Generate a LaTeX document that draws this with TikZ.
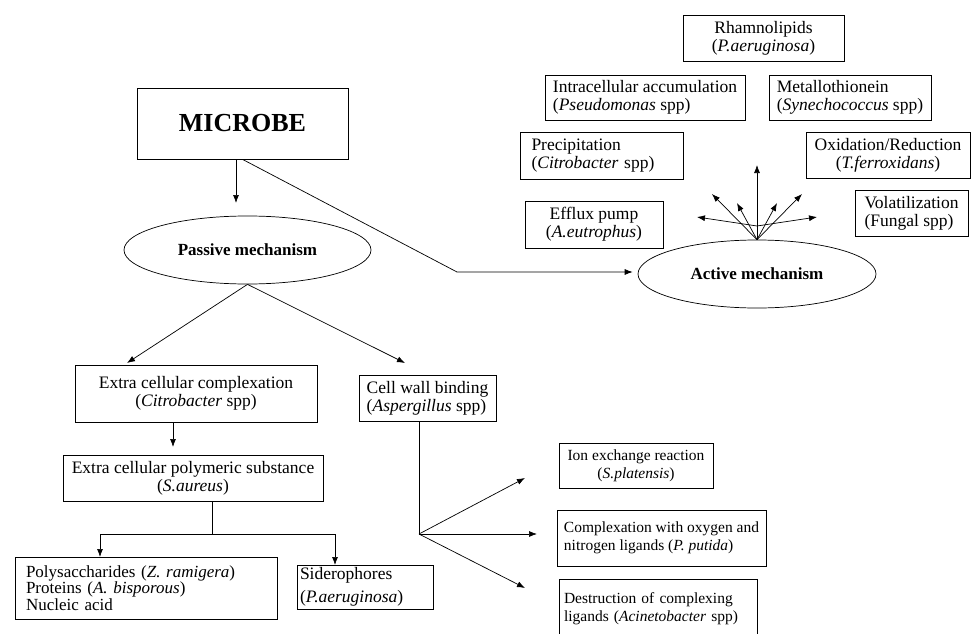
\documentclass[tikz,border=0pt]{standalone}
\usepackage{fontspec}
\setmainfont{Liberation Serif}
\usetikzlibrary{positioning}
\usetikzlibrary{arrows.meta}
\usetikzlibrary{shapes.geometric}
\tikzset{
  box/.style={draw, line width=0.25mm, inner sep=2pt, font=\fontsize{17.5}{18}\selectfont},
  smallbox/.style={box, font=\fontsize{15.5}{18}\selectfont},
  mech/.style={draw, ellipse, line width=0.25mm, inner sep=1pt, font=\fontsize{17}{20}\selectfont\bfseries},
  arr/.style={line width=0.25mm, arrows={-Latex[length=8pt,width=6pt]}},
  link/.style={line width=0.25mm}
}
\begin{document}
\begin{tikzpicture}[x=1pt,y=-1pt]
        \useasboundingbox (0,0) rectangle (972,634);
        \clip (0,0) rectangle (972,634);
        % Microbe and the two mechanisms
        \node[box, minimum width=211, minimum height=71, font=\fontsize{26}{30}\selectfont\bfseries] (microbe) at (242.5,123.5) {MICROBE};
        \node[mech, minimum width=247, minimum height=68] (passive) at (247.5,250) {Passive mechanism};
        \node[mech, minimum width=238, minimum height=68] (active) at (757,274) {Active mechanism};
        % Active mechanism boxes
        \node[box, minimum width=161, minimum height=46, align=center] (rham) at (763.5,38) {Rhamnolipids\\(\textit{P.aeruginosa})};
        \node[box, minimum width=200, minimum height=45, align=left] (intra) at (645,97.5) {Intracellular accumulation\\(\textit{Pseudomonas} spp)};
        \node[box, minimum width=162, minimum height=45, align=left] (metal) at (850,97.5) {Metallothionein\\(\textit{Synechococcus} spp)};
        \node[box, minimum width=163, minimum height=47, align=left, text width=140] (precip) at (601.5,155.5) {Precipitation\\(\textit{Citrobacter} spp)};
        \node[box, minimum width=164, minimum height=46, align=center] (oxid) at (888,155) {Oxidation/Reduction\\(\textit{T.ferroxidans})};
        \node[box, minimum width=113, minimum height=46, align=left] (volat) at (911.5,213) {Volatilization\\(Fungal spp)};
        \node[box, minimum width=138, minimum height=47, align=center] (efflux) at (594,224.5) {Efflux pump\\(\textit{A.eutrophus})};
        % Passive mechanism boxes
        \node[box, minimum width=242, minimum height=57, align=center] (ecc) at (196,393.5) {Extra cellular complexation\\(\textit{Citrobacter} spp)};
        \node[box, minimum width=260, minimum height=46, align=center] (eps) at (193,478) {Extra cellular polymeric substance\\(\textit{S.aureus})};
        \node[box, minimum width=262, minimum height=62, align=left, text width=240, font=\fontsize{17}{15}\selectfont] (poly) at (146,588) {Polysaccharides (\textit{Z. ramigera})\\Proteins (\textit{A. bisporous})\\Nucleic acid};
        \node[box, minimum width=136, minimum height=44, align=left, text width=130] (sidero) at (365,587) {Siderophores\\[5pt](\textit{P.aeruginosa})};
        \node[box, minimum width=137, minimum height=46, align=left] (cwb) at (427.5,398) {Cell wall binding\\(\textit{Aspergillus} spp)};
        \node[smallbox, minimum width=154, minimum height=45, align=center] (ion) at (636,465.5) {Ion exchange reaction\\(\textit{S.platensis})};
        \node[smallbox, minimum width=209, minimum height=56, align=left] (cplx) at (661.5,538) {Complexation with oxygen and\\nitrogen ligands (\textit{P. putida})};
        \node[smallbox, minimum width=198, minimum height=60, align=left, text width=188] (destr) at (658,609) {Destruction of complexing\\ligands (\textit{Acinetobacter} spp)};
        % Microbe to the mechanisms
        \coordinate (pastip) at (236,203);
        \draw[arr] (microbe.south -| pastip) -- (pastip);
        \coordinate (bend) at (457,272);
        \draw[arr, shorten >=5pt] (microbe.south) -- (bend) -- (bend -| active.west);
        % Fan of the active mechanism
        \coordinate (fan1) at (697,217);
        \coordinate (fan2) at (712,194);
        \coordinate (fan3) at (737,203);
        \coordinate (fan4) at (757,165);
        \coordinate (fan5) at (777,203);
        \coordinate (fan6) at (802,194);
        \coordinate (fan7) at (817,217);
        \coordinate (fanjoin) at (757,226);
        \draw[arr] (fanjoin) -- (fan1);
        \draw[arr] (active.north) -- (fan2);
        \draw[arr] (active.north) -- (fan3);
        \draw[arr] (active.north) -- (fan4);
        \draw[arr] (active.north) -- (fan5);
        \draw[arr] (active.north) -- (fan6);
        \draw[arr] (fanjoin) -- (fan7);
        % Passive branches
        \coordinate (ecctip) at (127,363);
        \coordinate (cwbtip) at (405,363);
        \draw[arr] (passive.south) -- (ecctip);
        \draw[arr] (passive.south) -- (cwbtip);
        \coordinate (epstip) at (173,447);
        \draw[arr] (ecc.south -| epstip) -- (epstip);
        \coordinate (split) at (212,534);
        \coordinate (polytip) at (100,557);
        \coordinate (siderotip) at (335,565);
        \draw[link] (eps.south -| split) -- (split);
        \draw[arr] (split) -| (polytip);
        \draw[arr] (split) -| (siderotip);
        % Cell wall binding fork
        \coordinate (fork) at (419,534);
        \coordinate (iontip) at (525,478);
        \coordinate (cplxtip) at (537,534);
        \coordinate (destrtip) at (525,588);
        \draw[link] (cwb.south -| fork) -- (fork);
        \draw[arr] (fork) -- (iontip);
        \draw[arr] (fork) -- (cplxtip);
        \draw[arr] (fork) -- (destrtip);
      \end{tikzpicture}
\end{document}
